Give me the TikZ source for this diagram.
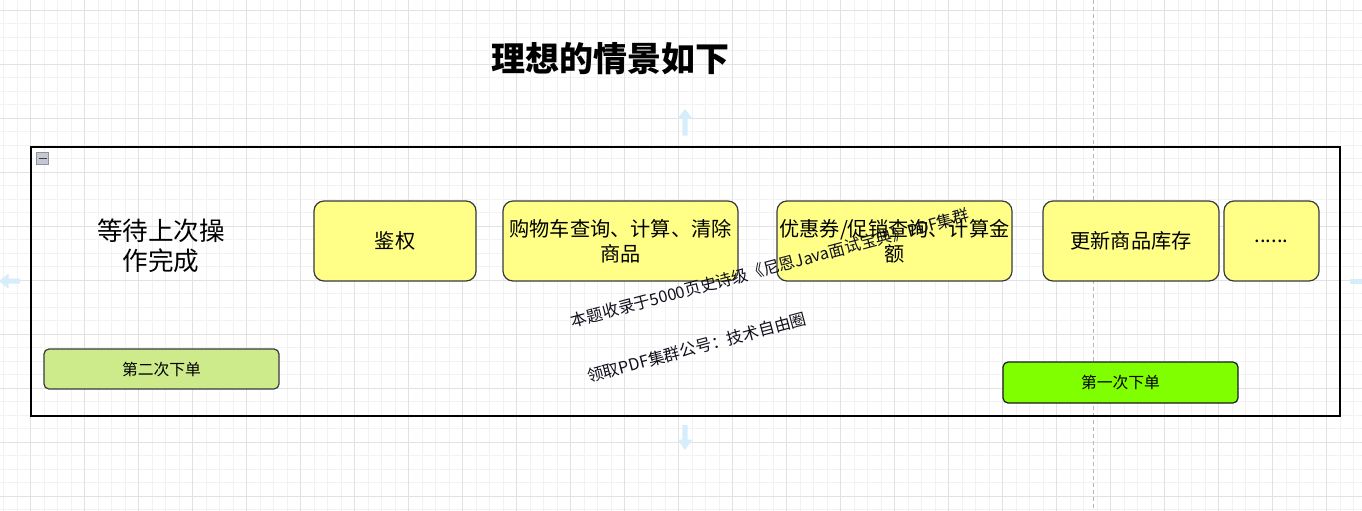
\documentclass[tikz,border=0pt]{standalone}
\usepackage{fontspec}
\setmainfont{Noto Sans CJK SC}
\usetikzlibrary{calc}
\definecolor{gmajor}{HTML}{E2E2E2}
\definecolor{gminor}{HTML}{F2F2F2}
\definecolor{boxyellow}{HTML}{FFFF88}
\definecolor{boxstroke}{HTML}{36393D}
\definecolor{lgreen}{HTML}{CDEB8B}
\definecolor{bgreen}{HTML}{80FF00}
\definecolor{handle}{HTML}{D6EDFB}
\definecolor{dashgray}{HTML}{B8B8B8}
\definecolor{wmtext}{HTML}{10101C}
\tikzset{
  stepbox/.style={draw=boxstroke, line width=1.2pt, fill=boxyellow, rounded corners=10pt,
    minimum height=80pt, inner sep=2pt, align=center, font=\fontsize{20.2}{25}\selectfont},
  orderbox/.style={draw=boxstroke, line width=1.2pt, rounded corners=5pt,
    minimum height=40pt, minimum width=235pt, inner sep=0pt, font=\fontsize{15.8}{18}\selectfont},
  wmark/.style={rotate=15, text=wmtext, inner sep=0pt, font=\fontsize{16.3}{19}\selectfont},
  handlearrow/.style={fill=handle, draw=none}
}
\begin{document}
\begin{tikzpicture}[x=1pt,y=-1pt]
\useasboundingbox (0,0) rectangle (1362,511);
\fill[white] (0,0) rectangle (1362,511);
% grid
\foreach \i in {0,...,101} {\draw[gminor, line width=0.8pt] ({3.7+13.5*\i},0) -- ++(0,511);}
\foreach \i in {1,...,38} {\draw[gminor, line width=0.8pt] (0,{-3.2+13.5*\i}) -- ++(1362,0);}
\foreach \i in {0,...,24} {\draw[gmajor, line width=0.9pt] ({30.7+54*\i},0) -- ++(0,511);}
\foreach \i in {0,...,9} {\draw[gmajor, line width=0.9pt] (0,{10.3+54*\i}) -- ++(1362,0);}
% dashed guide
\coordinate (gtop) at (1093.3,0);
\coordinate (gbot) at (1093.3,511);
\draw[dashgray, line width=0.9pt, dash pattern=on 4pt off 3pt] (gtop) -- (gbot);
% hover handles
\fill[handlearrow] (685,109) -- (692.5,118.5) -- (687.7,118.5) -- (687.7,135.5) -- (682.3,135.5) -- (682.3,118.5) -- (677.5,118.5) -- cycle;
\fill[handlearrow] (685,450) -- (692.5,439.5) -- (687.7,439.5) -- (687.7,425) -- (682.3,425) -- (682.3,439.5) -- (677.5,439.5) -- cycle;
\fill[handlearrow] (-1,281.2) -- (8.5,273.7) -- (8.5,278.7) -- (20,278.7) -- (20,283.7) -- (8.5,283.7) -- (8.5,288.7) -- cycle;
\fill[handlearrow] (1350,278.7) rectangle (1362,283.7);
% title
\node[font=\fontsize{34}{40}\selectfont\bfseries, inner sep=0pt] (title) at (610,59) {理想的情景如下};
% container
\node[draw=black, line width=1.2pt, minimum width=1309pt, minimum height=269pt, inner sep=0pt] (container) at (685.5,281.5) {};
% collapse icon
\node[draw={rgb,255:red,140;green,146;blue,160}, fill={rgb,255:red,196;green,200;blue,208}, minimum size=12pt, inner sep=0pt, line width=0.8pt] (collapse) at (42.7,158.3) {};
\draw[black!75, line width=1.2pt] ($(collapse.center)+(-4,0)$) -- ($(collapse.center)+(4,0)$);
% waiting text
\node[align=center, inner sep=0pt, font=\fontsize{25.6}{30}\selectfont] (wait) at (161,245.5) {等待上次操\\作完成};
% step boxes
\node[stepbox, minimum width=162pt] (jq) at (395,241) {鉴权};
\node[stepbox, minimum width=235pt] (gwc) at (620.5,241) {购物车查询、计算、清除\\商品};
\node[stepbox, minimum width=235pt] (yhq) at (894.5,241) {优惠券/促销查询、计算金\\额};
\node[stepbox, minimum width=176pt] (gx) at (1131,241) {更新商品库存};
\node[stepbox, minimum width=95pt] (dots) at (1271.5,241) {......};
% order boxes
\node[orderbox, fill=lgreen] (d2) at (161.5,369) {第二次下单};
\node[orderbox, fill=bgreen, draw=black!90, minimum height=41pt] (d1) at (1120.5,382.5) {第一次下单};
% watermark
\node[wmark] (wm1) at (770,268) {本题收录于5000页史诗级《尼恩Java面试宝典》PDF集群};
\node[wmark] (wm2) at (696.7,347.5) {领取PDF集群公号：技术自由圈};
\end{tikzpicture}
\end{document}
